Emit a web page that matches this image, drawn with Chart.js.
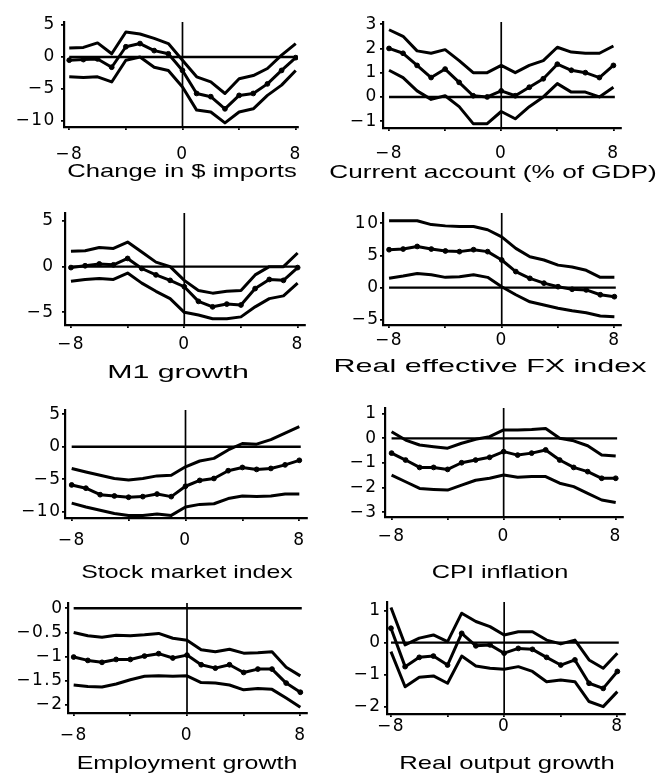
<!DOCTYPE html>
<html>
<head>
<meta charset="utf-8">
<script src="https://cdn.jsdelivr.net/npm/chart.js@4.4.1/dist/chart.umd.min.js"></script>
<style>
  body { margin: 0; background: #fff; }
  #wrap { position: relative; width: 658px; height: 775px; overflow: hidden; background: #fff; }
  #wrap canvas { position: absolute; }
  .ttl { position: absolute; white-space: nowrap; font-family: 'Liberation Sans', Arial, sans-serif;
         font-size: 18.5px; line-height: 1; color: #000; }
</style>
</head>
<body>
<div id="wrap"></div>
<script>
// quarters around the event, -8 .. 8
const lags = [-8, -7, -6, -5, -4, -3, -2, -1, 0, 1, 2, 3, 4, 5, 6, 7, 8];
const xTicks = [-8, -4, 0, 4, 8];
const xLabels = [-8, 0, 8];

// Change in $ imports
const importsHigh = [1.4, 1.5, 2.2, 0.5, 3.9, 3.6, 2.9, 2.1, -0.5, -3.1, -3.9, -5.7, -3.4, -2.9, -1.8, 0.3, 2.1];
const importsMid = [-0.5, -0.4, -0.3, -1.6, 1.6, 2.1, 1.0, 0.5, -2.1, -5.7, -6.2, -8.1, -6.0, -5.7, -4.2, -2.1, -0.1];
const importsLow = [-3.1, -3.2, -3.1, -3.9, -0.5, 0.0, -1.6, -2.1, -4.7, -8.3, -8.6, -10.3, -8.6, -8.1, -6.0, -4.4, -2.1];
const importsTicks = [5, 0, -5, -10];

// Current account (% of GDP)
const caHigh = [2.77, 2.5, 1.9, 1.8, 1.95, 1.5, 1.0, 1.0, 1.3, 1.0, 1.3, 1.5, 2.05, 1.85, 1.8, 1.8, 2.1];
const caMid = [2.0, 1.8, 1.3, 0.8, 1.15, 0.6, 0.05, 0.0, 0.25, 0.05, 0.4, 0.75, 1.35, 1.1, 1.0, 0.8, 1.3];
const caLow = [1.1, 0.8, 0.25, -0.1, 0.05, -0.4, -1.1, -1.1, -0.6, -0.9, -0.4, 0.0, 0.55, 0.2, 0.2, 0.0, 0.4];
const caTicks = [3, 2, 1, 0, -1];

// M1 growth
const m1High = [1.7, 1.75, 2.1, 2.0, 2.7, 1.6, 0.5, 0.0, -1.5, -2.6, -2.9, -2.7, -2.6, -0.9, 0.0, 0.0, 1.5];
const m1Mid = [-0.1, 0.1, 0.3, 0.2, 0.9, -0.2, -0.9, -1.5, -2.2, -3.8, -4.4, -4.1, -4.2, -2.4, -1.4, -1.5, -0.1];
const m1Low = [-1.6, -1.4, -1.3, -1.4, -0.7, -1.8, -2.7, -3.5, -5.0, -5.3, -5.7, -5.7, -5.5, -4.4, -3.5, -3.2, -1.8];
const m1Ticks = [5, 0, -5];

// Real effective FX index
const fxHigh = [10.4, 10.4, 10.4, 9.8, 9.6, 9.5, 9.5, 9.0, 7.9, 6.1, 4.8, 4.3, 3.5, 3.2, 2.7, 1.6, 1.6];
const fxMid = [5.9, 6.0, 6.4, 6.0, 5.7, 5.6, 5.9, 5.6, 4.3, 2.5, 1.45, 0.7, 0.15, -0.25, -0.35, -1.1, -1.4];
const fxLow = [1.45, 1.8, 2.2, 2.0, 1.6, 1.7, 2.0, 1.6, 0.15, -1.1, -2.2, -2.7, -3.2, -3.6, -3.9, -4.4, -4.5];
const fxTicks = [10, 5, 0, -5];

// Stock market index
const stockHigh = [-3.35, -3.9, -4.4, -4.9, -5.15, -4.9, -4.5, -4.4, -3.1, -2.2, -1.8, -0.5, 0.5, 0.4, 1.1, 2.1, 3.1];
const stockMid = [-5.9, -6.4, -7.4, -7.6, -7.8, -7.7, -7.3, -7.7, -6.1, -5.2, -4.9, -3.7, -3.2, -3.5, -3.35, -2.8, -2.1];
const stockLow = [-8.7, -9.3, -9.8, -10.3, -10.6, -10.6, -10.4, -10.6, -9.3, -8.9, -8.8, -8.0, -7.6, -7.7, -7.6, -7.3, -7.3];
const stockTicks = [5, 0, -5, -10];

// CPI inflation
const cpiHigh = [0.27, -0.07, -0.27, -0.34, -0.4, -0.2, -0.04, 0.07, 0.34, 0.34, 0.36, 0.4, 0.0, -0.1, -0.3, -0.68, -0.72];
const cpiMid = [-0.6, -0.88, -1.18, -1.18, -1.26, -0.99, -0.88, -0.77, -0.54, -0.68, -0.6, -0.47, -0.88, -1.18, -1.35, -1.62, -1.62];
const cpiLow = [-1.49, -1.76, -2.03, -2.07, -2.1, -1.9, -1.7, -1.62, -1.49, -1.58, -1.55, -1.55, -1.82, -1.96, -2.23, -2.5, -2.6];
const cpiTicks = [1, 0, -1, -2, -3];

// Employment growth
const empHigh = [-0.5, -0.57, -0.6, -0.56, -0.57, -0.55, -0.52, -0.62, -0.66, -0.86, -0.9, -0.85, -0.93, -0.92, -0.9, -1.22, -1.4];
const empMid = [-1.01, -1.08, -1.12, -1.06, -1.06, -0.99, -0.94, -1.03, -0.97, -1.17, -1.24, -1.17, -1.33, -1.26, -1.26, -1.55, -1.74];
const empLow = [-1.59, -1.62, -1.63, -1.57, -1.48, -1.41, -1.4, -1.41, -1.4, -1.54, -1.55, -1.59, -1.69, -1.66, -1.68, -1.86, -2.05];
const empTicks = [0, -0.5, -1, -1.5, -2];

// Real output growth
const outHigh = [1.1, -0.07, 0.14, 0.24, 0.03, 0.92, 0.66, 0.5, 0.24, 0.34, 0.34, 0.08, -0.04, 0.08, -0.54, -0.8, -0.33];
const outMid = [0.45, -0.75, -0.46, -0.42, -0.7, 0.29, -0.1, -0.07, -0.33, -0.18, -0.21, -0.46, -0.7, -0.54, -1.27, -1.43, -0.9];
const outLow = [-0.28, -1.38, -1.08, -1.04, -1.27, -0.42, -0.73, -0.8, -0.83, -0.75, -0.9, -1.22, -1.17, -1.22, -1.84, -2.0, -1.53];
const outTicks = [1, 0, -1, -2];

// where every small chart sits on the page (pixels) and its axis ranges
const W = 329, H = 205;
const panels = [
  { title: 'Change in $ imports', high: importsHigh, mid: importsMid, low: importsLow, yTicks: importsTicks,
    pos: [0, 0], area: { left: 64, right: 298, top: 22, bottom: 127 }, xr: [-8.37, 8.16], yr: [-10.94, 5.47],
    yGap: 9.7, xLab: 155, ttl: [182, 171, 230] },
  { title: 'Current account (% of GDP)', high: caHigh, mid: caMid, low: caLow, yTicks: caTicks,
    pos: [329, 0], area: { left: 54, right: 292, top: 22, bottom: 128 }, xr: [-8.43, 8.54], yr: [-1.28, 3.09],
    yGap: 6.7, xLab: 154, ttl: [493, 172, 327] },
  { title: 'M1 growth', high: m1High, mid: m1Mid, low: m1Low, yTicks: m1Ticks,
    pos: [0, 190], area: { left: 65, right: 305, top: 23, bottom: 135 }, xr: [-8.42, 8.52], yr: [-6.39, 5.88],
    yGap: 12, xLab: 155, ttl: [178, 372, 141] },
  { title: 'Real effective FX index', high: fxHigh, mid: fxMid, low: fxLow, yTicks: fxTicks,
    pos: [329, 190], area: { left: 54, right: 292, top: 23, bottom: 135 }, xr: [-8.43, 8.47], yr: [-5.8, 11.6],
    yGap: 5, xLab: 151, ttl: [490, 366, 313] },
  { title: 'Stock market index', high: stockHigh, mid: stockMid, low: stockLow, yTicks: stockTicks,
    pos: [0, 380], area: { left: 65, right: 307, top: 30, bottom: 138 }, xr: [-8.47, 8.54], yr: [-11.0, 5.67],
    yGap: 5, xLab: 161, ttl: [187, 572, 211] },
  { title: 'CPI inflation', high: cpiHigh, mid: cpiMid, low: cpiLow, yTicks: cpiTicks,
    pos: [329, 380], area: { left: 56, right: 294, top: 28, bottom: 137 }, xr: [-8.47, 8.52], yr: [-3.19, 1.23],
    yGap: 9, xLab: 157, ttl: [500, 572, 137] },
  { title: 'Employment growth', high: empHigh, mid: empMid, low: empLow, yTicks: empTicks,
    pos: [0, 570], area: { left: 68, right: 307, top: 33, bottom: 143 }, xr: [-8.4, 8.47], yr: [-2.17, 0.11],
    yGap: 6, xLab: 166, ttl: [187, 763, 220] },
  { title: 'Real output growth', high: outHigh, mid: outMid, low: outLow, yTicks: outTicks,
    pos: [329, 570], area: { left: 58, right: 296, top: 32, bottom: 144 }, xr: [-8.28, 8.54], yr: [-2.23, 1.27],
    yGap: 7, xLab: 157, ttl: [507, 763, 215] }
];

const ink = '#000';
const tickFont = { family: 'DejaVu Sans', size: 17 };
const TL = 3;          // tick mark length
const SPACING = 1.5;   // letter spacing of tick labels

// proper minus sign like the print
function fmt(v) {
    return v < 0 ? '\u2212' + String(Math.abs(v)) : String(v);
}

function pts(arr) {
    return lags.map((x, i) => ({ x: x, y: arr[i] }));
}

const loosen = {
    id: 'loosen',
    beforeDraw(chart) { chart.ctx.letterSpacing = SPACING + 'px'; }
};

const wrap = document.getElementById('wrap');

panels.forEach(p => {
    const canvas = document.createElement('canvas');
    canvas.width = W;
    canvas.height = H;
    canvas.style.left = p.pos[0] + 'px';
    canvas.style.top = p.pos[1] + 'px';
    wrap.appendChild(canvas);

    const a = p.area;
    const line = (arr, withDots) => ({
        data: pts(arr),
        borderColor: ink,
        backgroundColor: ink,
        borderWidth: 3,
        borderJoinStyle: 'round',
        pointRadius: withDots ? 2.4 : 0,
        pointBorderWidth: 1,
        pointStyle: 'circle',
        tension: 0
    });

    new Chart(canvas, {
        type: 'line',
        data: {
            datasets: [
                // zero line and the event line
                { data: [{ x: -8, y: 0 }, { x: 8.1, y: 0 }], borderColor: ink, borderWidth: 2.4, pointRadius: 0 },
                { data: [{ x: 0, y: p.yr[0] }, { x: 0, y: p.yr[1] }], borderColor: ink, borderWidth: 1.7, pointRadius: 0 },
                line(p.high, false),
                line(p.mid, true),
                line(p.low, false)
            ]
        },
        options: {
            responsive: false,
            animation: false,
            devicePixelRatio: 1,
            layout: { padding: { left: 0, top: a.top, right: W - a.right, bottom: 0 } },
            plugins: { legend: { display: false }, tooltip: { enabled: false } },
            scales: {
                x: {
                    type: 'linear',
                    min: p.xr[0],
                    max: p.xr[1],
                    afterBuildTicks: s => { s.ticks = xTicks.map(v => ({ value: v })); },
                    afterFit: s => { s.height = H - a.bottom; },
                    ticks: {
                        autoSkip: false,
                        maxRotation: 0,
                        color: '#000',
                        font: tickFont,
                        padding: p.xLab - a.bottom - TL - 10.2,
                        callback: v => xLabels.includes(v) ? fmt(v) : ''
                    },
                    grid: { drawOnChartArea: false, tickLength: TL, color: ink, lineWidth: 1.8 },
                    border: { color: ink, width: 2.2 }
                },
                y: {
                    min: p.yr[0],
                    max: p.yr[1],
                    afterBuildTicks: s => { s.ticks = p.yTicks.map(v => ({ value: v })); },
                    afterFit: s => { s.width = a.left; },
                    ticks: {
                        autoSkip: false,
                        color: '#000',
                        font: tickFont,
                        padding: p.yGap - TL - SPACING,
                        callback: v => fmt(v)
                    },
                    grid: { drawOnChartArea: false, tickLength: TL, color: ink, lineWidth: 1.8 },
                    border: { color: ink, width: 2.2 }
                }
            }
        },
        plugins: [loosen]
    });

    // caption under the panel, stretched like the printed type
    const t = document.createElement('div');
    t.className = 'ttl';
    t.textContent = p.title;
    t.style.left = p.ttl[0] + 'px';
    t.style.top = p.ttl[1] + 'px';
    wrap.appendChild(t);
    const k = p.ttl[2] / t.offsetWidth;
    t.style.transform = 'translate(-50%, -50%) scaleX(' + k.toFixed(3) + ')';
});
</script>
</body>
</html>
